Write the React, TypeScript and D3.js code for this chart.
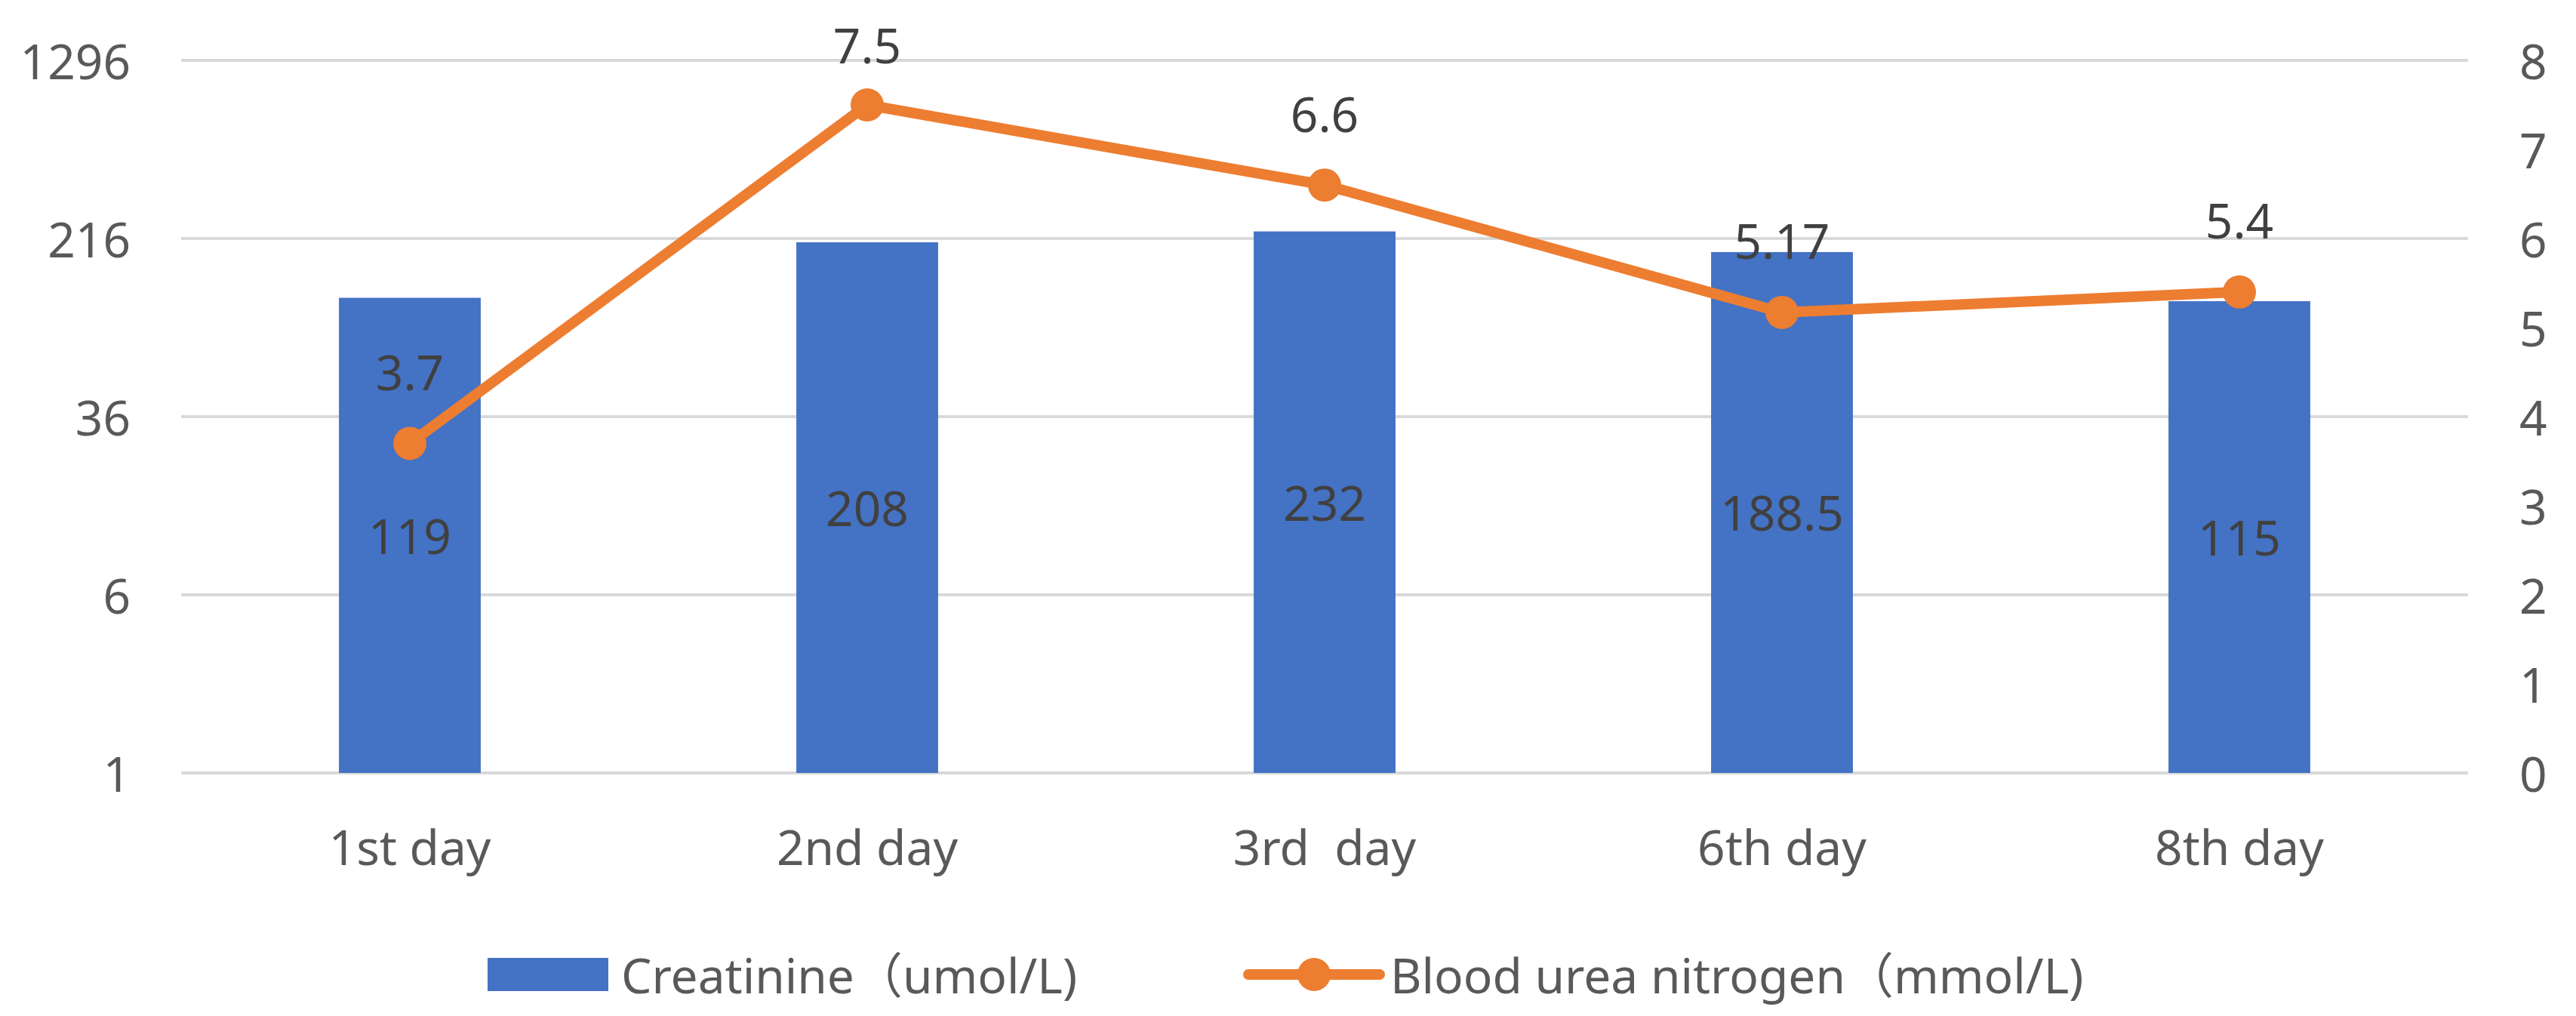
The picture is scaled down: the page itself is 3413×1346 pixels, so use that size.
import * as d3 from 'd3';

const days = ['1st day', '2nd day', '3rd  day', '6th day', '8th day'];
const creatinine = [119, 208, 232, 188.5, 115];
const bun = [3.7, 7.5, 6.6, 5.17, 5.4];
const leftTicks = [1, 6, 36, 216, 1296];
const rightTicks = [0, 1, 2, 3, 4, 5, 6, 7, 8];
const seriesNames = ['Creatinine（umol/L)', 'Blood urea nitrogen（mmol/L)'];

const W = 3413;
const H = 1346;
const margin = { top: 80, right: 143, bottom: 322, left: 240 };
const FONT = '"Noto Sans", "Open Sans", "Noto Sans CJK SC", sans-serif';
const BLUE = '#4472C4';
const ORANGE = '#ED7D31';

export default function App() {
  const x = d3
    .scaleBand<string>()
    .domain(days)
    .range([margin.left, W - margin.right])
    .paddingInner(0.69)
    .paddingOuter(0.345);

  const yLeft = d3
    .scaleLog()
    .base(6)
    .domain([1, 1296])
    .range([H - margin.bottom, margin.top]);

  const yRight = d3
    .scaleLinear()
    .domain([0, 8])
    .range([H - margin.bottom, margin.top]);

  const cx = (d: string) => (x(d) ?? 0) + x.bandwidth() / 2;

  const line = d3
    .line<number>()
    .x((_, i) => cx(days[i]))
    .y((v) => yRight(v));

  const y0 = yLeft(1);

  return (
    <svg
      width={W}
      height={H}
      style={{ position: 'absolute', left: 0, top: 0, background: '#fff' }}
      fontFamily={FONT}
    >
      {/* gridlines */}
      {leftTicks.map((t) => (
        <line
          key={t}
          x1={margin.left}
          x2={W - margin.right}
          y1={yLeft(t)}
          y2={yLeft(t)}
          stroke="#d9d9d9"
          strokeWidth={4}
        />
      ))}

      {/* left axis */}
      {leftTicks.map((t) => (
        <text
          key={t}
          x={173}
          y={yLeft(t)}
          textAnchor="end"
          dominantBaseline="central"
          fontSize={64}
          fill="#595959"
        >
          {t}
        </text>
      ))}

      {/* right axis */}
      {rightTicks.map((t) => (
        <text
          key={t}
          x={W - margin.right + 68}
          y={yRight(t)}
          textAnchor="start"
          dominantBaseline="central"
          fontSize={64}
          fill="#595959"
        >
          {t}
        </text>
      ))}

      {/* category labels */}
      {days.map((d) => (
        <text
          key={d}
          x={cx(d)}
          y={y0 + 122}
          textAnchor="middle"
          fontSize={64}
          fill="#595959"
          style={{ whiteSpace: 'pre' }}
        >
          {d}
        </text>
      ))}

      {/* bars */}
      {creatinine.map((v, i) => (
        <rect
          key={days[i]}
          x={x(days[i])}
          y={yLeft(v)}
          width={x.bandwidth()}
          height={y0 - yLeft(v)}
          fill={BLUE}
        />
      ))}

      {/* bar labels */}
      {creatinine.map((v, i) => (
        <text
          key={days[i]}
          x={cx(days[i])}
          y={(yLeft(v) + y0) / 2}
          textAnchor="middle"
          dominantBaseline="central"
          fontSize={64}
          fill="#404040"
        >
          {v}
        </text>
      ))}

      {/* line */}
      <path
        d={line(bun) ?? undefined}
        fill="none"
        stroke={ORANGE}
        strokeWidth={14}
        strokeLinejoin="round"
        strokeLinecap="round"
      />
      {bun.map((v, i) => (
        <circle key={days[i]} cx={cx(days[i])} cy={yRight(v)} r={22} fill={ORANGE} />
      ))}
      {bun.map((v, i) => (
        <text
          key={days[i]}
          x={cx(days[i])}
          y={Math.max(yRight(v) - 95, margin.top - 21)}
          textAnchor="middle"
          dominantBaseline="central"
          fontSize={64}
          fill="#404040"
        >
          {v}
        </text>
      ))}

      {/* legend */}
      <g transform="translate(0, 1291)">
        <rect x={646} y={-22} width={160} height={44} fill={BLUE} />
        <text x={823} y={0} dominantBaseline="central" fontSize={64} fill="#595959">
          {seriesNames[0]}
        </text>
        <line x1={1654} x2={1828} y1={0} y2={0} stroke={ORANGE} strokeWidth={14} strokeLinecap="round" />
        <circle cx={1741} cy={0} r={22} fill={ORANGE} />
        <text x={1842} y={0} dominantBaseline="central" fontSize={64} fill="#595959">
          {seriesNames[1]}
        </text>
      </g>
    </svg>
  );
}
